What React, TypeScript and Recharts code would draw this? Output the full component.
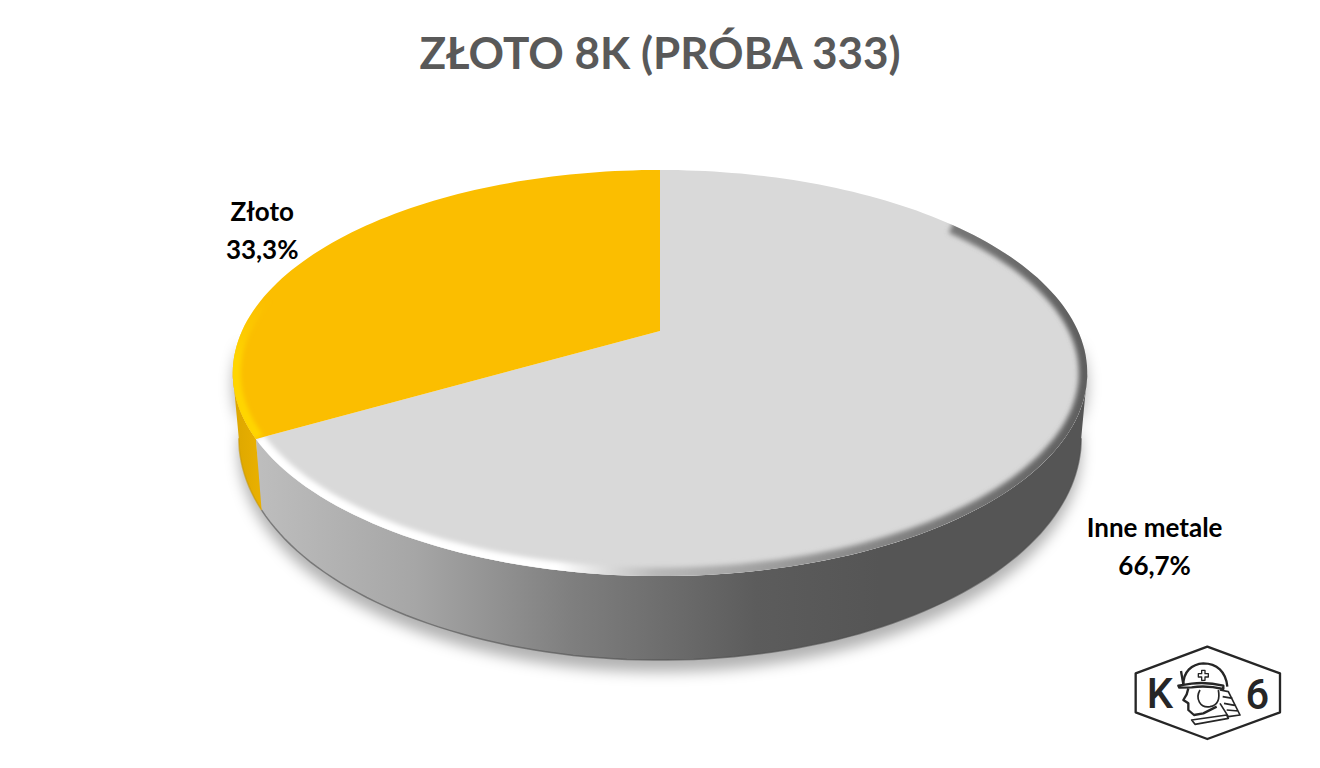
import React from 'react';
import { PieChart, Pie } from 'recharts';

const TITLE = 'ZŁOTO 8K (PRÓBA 333)';
const categories = ['Inne metale', 'Złoto'];
const values = [66.7, 33.3];
const topColors = ['#D9D9D9', '#FBBE00'];
const tableData = categories.map((name, i) => ({ name, value: values[i], fill: topColors[i] }));

// perspective of the tilted disc
const K = 0.207;
const Y_RATIO = 0.465;
const RAD = Math.PI / 180;
const W = 1320;
const H = 768;

function topPoint(cx: number, cy: number, r: number, deg: number) {
  const u = Math.cos(deg * RAD);
  const v = Math.sin(deg * RAD);
  const w = 1 + K * v;
  return { x: cx + (r * u) / w, y: cy - (r * Y_RATIO * v) / w };
}
function bottomPoint(cx: number, cy: number, r: number, deg: number) {
  const p = topPoint(cx, cy, r, deg);
  // top rim is an ellipse around (cx, cy+42); bottom rim a wider-looking one lower down
  const ex = (p.x - cx) / (r * 1.0215);
  const ey = (p.y - (cy + 42)) / (r * 0.4856);
  return { x: cx + ex * r * 1.007, y: cy + 107 + ey * r * 0.531 };
}
function samples(a0: number, a1: number) {
  const n = Math.max(2, Math.ceil(Math.abs(a1 - a0) / 1.5));
  return Array.from({ length: n + 1 }, (_, i) => a0 + ((a1 - a0) * i) / n);
}
const toD = (pts: { x: number; y: number }[]) =>
  pts.map((p, i) => `${i ? 'L' : 'M'}${p.x.toFixed(1)} ${p.y.toFixed(1)}`).join(' ');

function DiscSector(props: any) {
  const { cx, cy, outerRadius: r, startAngle, endAngle, fill } = props;
  const isGold = fill === topColors[1];
  const id = isGold ? 'g' : 's';
  const angles = samples(startAngle, endAngle);
  const rim = angles.map((a) => topPoint(cx, cy, r, a));
  const topD = `M${cx} ${cy} ${toD(rim).replace('M', 'L')} Z`;

  const wa0 = Math.min(-12, startAngle);
  const wa1 = Math.max(-168, endAngle);
  const wallAngles = samples(wa0, wa1);
  const wallTop = wallAngles.map((a) => topPoint(cx, cy, r, a));
  const wallBot = wallAngles.map((a) => bottomPoint(cx, cy, r, a));
  const wallD = `${toD(wallTop)} ${toD([...wallBot].reverse()).replace('M', 'L')} Z`;

  const bevelAngles = isGold ? samples(-150, -215) : samples(38, -150);
  const bevelD = toD(bevelAngles.map((a) => topPoint(cx, cy, r, a)));
  const fullBottom = samples(0, -180).map((a) => bottomPoint(cx, cy, r, a));
  const shadowD = `${toD(samples(-180, 0).map((a) => topPoint(cx, cy, r, a)))} ${toD(fullBottom).replace('M', 'L')} Z`;

  return (
    <g>
      <defs>
        <filter id={`blur-${id}`} x="-10%" y="-10%" width="120%" height="120%">
          <feGaussianBlur stdDeviation={isGold ? 2 : 2.6} />
        </filter>
        <filter id={`shadow-${id}`} x="-10%" y="-10%" width="120%" height="130%">
          <feGaussianBlur stdDeviation="7" />
        </filter>
        <clipPath id={`clip-${id}`}>
          <path d={topD} />
        </clipPath>
        <linearGradient id="wallGrey" gradientUnits="userSpaceOnUse" x1="260" y1="0" x2="880" y2="0">
          <stop offset="0" stopColor="#BDBDBD" />
          <stop offset="0.25" stopColor="#A6A6A6" />
          <stop offset="0.5" stopColor="#7F7F7F" />
          <stop offset="0.8" stopColor="#5C5C5C" />
          <stop offset="1" stopColor="#555555" />
        </linearGradient>
        <linearGradient id="wallGold" gradientUnits="userSpaceOnUse" x1="232" y1="0" x2="268" y2="0">
          <stop offset="0" stopColor="#DCA600" />
          <stop offset="1" stopColor="#EDB300" />
        </linearGradient>
        <linearGradient id="bevelGrey" gradientUnits="userSpaceOnUse" x1="260" y1="0" x2="1085" y2="0">
          <stop offset="0" stopColor="#FFFFFF" />
          <stop offset="0.36" stopColor="#FFFFFF" />
          <stop offset="0.48" stopColor="#B8B8B8" />
          <stop offset="0.72" stopColor="#8A8A8A" />
          <stop offset="1" stopColor="#5E5E5E" />
        </linearGradient>
        <linearGradient id="bevelGold" gradientUnits="userSpaceOnUse" x1="0" y1="300" x2="0" y2="360">
          <stop offset="0" stopColor="#FFD500" stopOpacity="0" />
          <stop offset="1" stopColor="#FFD500" />
        </linearGradient>
      </defs>
      {!isGold && (
        <path d={shadowD} transform="translate(0 12)" fill="#000" fillOpacity={0.3} filter={`url(#shadow-${id})`} />
      )}
      <path d={wallD} fill={isGold ? 'url(#wallGold)' : 'url(#wallGrey)'} />
      <path d={toD(wallBot)} fill="none" stroke={isGold ? '#C99700' : '#4F4F4F'} strokeOpacity={0.6} strokeWidth={1.5} />
      <path d={topD} fill={fill} />
      <g clipPath={`url(#clip-${id})`}>
        <path
          d={bevelD}
          fill="none"
          stroke={isGold ? 'url(#bevelGold)' : 'url(#bevelGrey)'}
          strokeWidth={isGold ? 16 : 17}
          filter={`url(#blur-${id})`}
        />
      </g>
    </g>
  );
}

const LABEL_SHIFT: Record<string, [number, number]> = { 'Złoto': [-70, -11], 'Inne metale': [91, 108] };

function renderLabel(props: any) {
  const { cx, cy, outerRadius, midAngle, name, value } = props;
  const p = topPoint(cx, cy, outerRadius, midAngle);
  const [dx, dy] = LABEL_SHIFT[name];
  const x = p.x + dx;
  const y = p.y + dy;
  return (
    <text x={x} y={y} textAnchor="middle" fill="#000" fontFamily="Lato" fontWeight={700} fontSize={26}>
      <tspan x={x} y={y - 11}>{name}</tspan>
      <tspan x={x} y={y + 27}>{`${value.toFixed(1).replace('.', ',')}%`}</tspan>
    </text>
  );
}

function Logo() {
  return (
    <svg width={175} height={115} viewBox="0 0 525 345" style={{ position: 'absolute', left: 1120, top: 635 }}>
      <g fill="none" stroke="#262626" strokeWidth={7} strokeLinejoin="round">
        <polygon points="47,115 262,35 480,115 480,232 262,312 47,232" />
        <path d="M190 150 C190 110 215 87 250 85 C290 85 318 110 322 155" />
        <path d="M175 152 L215 146 Q260 140 310 152 L310 162 Q260 150 215 157 L178 158 Z" fill="#fff" />
        <path d="M183 108 L190 148" />
        <path d="M245 106 H255 V116 H265 V126 H255 V136 H245 V126 H235 V116 H245 Z" strokeWidth={4} />
        <path d="M205 160 L200 178 L190 195 L205 205 L205 225 L222 240 L250 235 L290 215" />
        <path d="M240 165 C225 190 240 220 270 215 C295 210 300 190 295 165" strokeWidth={5} />
        <path d="M300 165 L325 170 L360 240 L325 245 L300 205 M308 185 L338 190 M312 205 L348 212 M320 225 L355 228" strokeWidth={5} />
        <path d="M215 255 L320 240 L325 250 L225 268 Z" strokeWidth={5} />
      </g>
      <text x={120} y={220} textAnchor="middle" fontFamily="Roboto" fontWeight={500} fontSize={125} fill="#262626">K</text>
      <text x={412} y={222} textAnchor="middle" fontFamily="Roboto" fontWeight={500} fontSize={125} fill="#262626">6</text>
    </svg>
  );
}

export default function App() {
  return (
    <div style={{ position: 'absolute', left: 0, top: 0, width: W, height: H, background: '#fff', overflow: 'hidden' }}>
      <div
        style={{
          position: 'absolute', left: 0, top: 24, width: W, textAlign: 'center',
          fontFamily: 'Lato', fontWeight: 700, fontSize: 44, lineHeight: '56px', color: '#595959',
        }}
      >
        {TITLE}
      </div>
      <div style={{ position: 'absolute', left: 0, top: 0 }}>
        <PieChart width={W} height={H} margin={{ top: 0, right: 0, bottom: 0, left: 0 }}>
          <Pie
            data={tableData}
            dataKey="value"
            nameKey="name"
            cx={660}
            cy={331}
            outerRadius={418}
            startAngle={90}
            endAngle={-270}
            stroke="none"
            isAnimationActive={false}
            shape={DiscSector}
            label={renderLabel}
            labelLine={false}
          />
        </PieChart>
      </div>
      <Logo />
    </div>
  );
}
